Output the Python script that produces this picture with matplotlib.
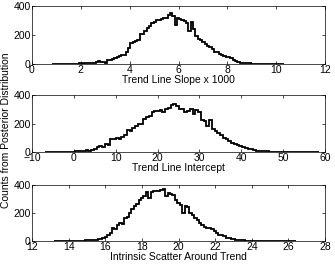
import numpy as np
import matplotlib
matplotlib.use("Agg")
import matplotlib.pyplot as plt

plt.rcParams['font.family'] = ['Liberation Sans', 'DejaVu Sans']

# Panel 1: Trend line slope x 1000 (100 bins)
slope_range = (0.8, 10.3)
slope_counts = [0,0,1,0,1,0,1,2,1,2,3,2,4,3,5,
                4,6,5,8,12,
                18,16,12,8,25,
                30,35,42,48,58,
                62,65,85,110,145,
                150,155,165,205,210,
                225,245,265,285,290,
                300,305,310,315,320,
                335,350,330,270,320,
                310,300,295,285,230,
                290,240,195,175,165,
                150,140,125,115,100,
                85,80,70,65,58,
                50,45,38,30,20,
                12,10,8,6,5,
                4,3,3,2,2,
                1,2,1,1,0,1,0,1,0,1]

# Panel 2: Trend line intercept
icpt_range = (-7.0, 58.5)
icpt_counts = [0,1,0,1,1,2,1,2,3,2,
               3,4,5,4,8,
               12,10,15,20,35,
               40,38,55,50,95,
               90,100,95,105,120,
               155,150,170,185,195,
               200,230,245,255,280,
               290,285,295,280,300,
               310,330,340,320,305,
               300,280,285,300,270,
               295,280,225,220,180,
               225,160,150,135,120,
               100,90,75,65,55,
               48,42,38,30,25,
               20,15,10,8,6,
               5,4,3,3,2,
               2,1,2,1,1,
               1,0,1,1,0,1,0,0,1,0]

# Panel 3: Intrinsic scatter around trend
scat_range = (13.2, 26.4)
scat_counts = [1,0,1,0,1,1,0,1,1,2,
               2,3,2,4,5,
               6,5,8,12,18,
               25,30,45,60,90,
               85,115,130,120,165,
               175,200,230,250,265,
               290,305,320,350,310,
               350,355,355,360,365,
               370,320,340,335,330,
               290,275,260,200,250,
               240,200,185,165,150,
               130,115,100,90,95,
               85,70,55,40,45,
               35,25,20,18,12,
               8,6,5,4,3,
               2,2,1,1,2,1,1,0,1,1,
               0,1,0,1,1,0,0,1,0,1]

panels = [
    (slope_range, slope_counts, (0, 12), np.arange(0, 13, 2), "Trend Line Slope x 1000"),
    (icpt_range, icpt_counts, (-10, 60), np.arange(-10, 61, 10), "Trend Line Intercept"),
    (scat_range, scat_counts, (12, 28), np.arange(12, 29, 2), "Intrinsic Scatter Around Trend"),
]

fig = plt.figure(figsize=(3.35, 2.64), dpi=100)
boxes = [(0.0955, 0.7576, 0.875, 0.22),
         (0.0955, 0.424, 0.875, 0.216),
         (0.0955, 0.087, 0.875, 0.212)]

for box, (rng, counts, xlim, xticks, xlabel) in zip(boxes, panels):
    ax = fig.add_axes(box)
    edges = np.linspace(rng[0], rng[1], len(counts) + 1)
    ax.stairs(counts, edges, color='black', linewidth=1.3, baseline=None)
    ax.set_xlim(*xlim)
    ax.set_ylim(0, 400)
    ax.set_xticks(xticks)
    ax.set_yticks([0, 200, 400])
    ax.tick_params(direction='in', length=2.5, width=0.5, top=True, right=True,
                   labelsize=7.5, pad=1, colors='black')
    for s in ax.spines.values():
        s.set_linewidth(0.5)
    ax.set_xlabel(xlabel, fontsize=7.5, labelpad=-0.5)

fig.text(0.018, 0.505, "Counts from Posterior Distribution", rotation=90,
         ha='center', va='center', fontsize=7.5)

fig.savefig("out.png", dpi=100)
